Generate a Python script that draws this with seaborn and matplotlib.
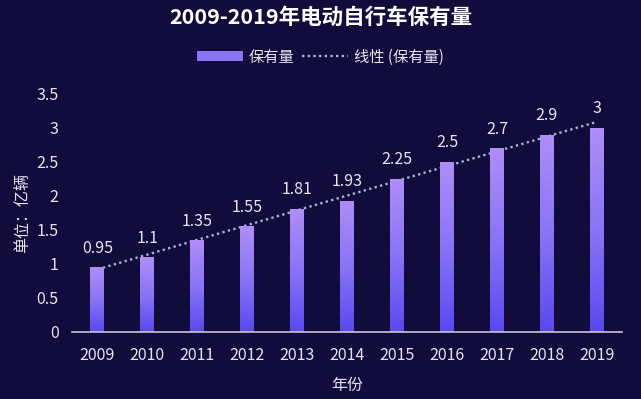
import numpy as np
import pandas as pd
import matplotlib
matplotlib.use("Agg")
import matplotlib.pyplot as plt
import seaborn as sns
from matplotlib.colors import LinearSegmentedColormap
from matplotlib.lines import Line2D
from matplotlib.patches import Patch

years = ['2009', '2010', '2011', '2012', '2013', '2014', '2015', '2016', '2017', '2018', '2019']
holdings = [0.95, 1.1, 1.35, 1.55, 1.81, 1.93, 2.25, 2.5, 2.7, 2.9, 3]
value_labels = ['0.95', '1.1', '1.35', '1.55', '1.81', '1.93', '2.25', '2.5', '2.7', '2.9', '3']

bg = '#110c3c'
txt = '#e6e4f2'

sns.set_theme(style='white')
plt.rcParams['font.family'] = ['Noto Sans CJK SC', 'DejaVu Sans']

df = pd.DataFrame({'year': years, 'value': holdings})

fig, ax = plt.subplots(figsize=(6.41, 3.99), dpi=100)
fig.patch.set_facecolor(bg)
ax.set_facecolor(bg)
fig.subplots_adjust(left=0.113, right=0.97, top=0.765, bottom=0.168)

sns.barplot(data=df, x='year', y='value', color='#8a70f5', width=0.28, ax=ax)

# gradient fill for the bars
cmap = LinearSegmentedColormap.from_list('bar', ['#5a48f0', '#8a74f6', '#ae8ef7'])
grad = np.linspace(0, 1, 256).reshape(-1, 1)
for p in ax.patches:
    x0, y0 = p.get_x(), p.get_y()
    w, h = p.get_width(), p.get_height()
    im = ax.imshow(grad, cmap=cmap, origin='lower', aspect='auto',
                   extent=[x0, x0 + w, y0, y0 + h], zorder=2)
    im.set_clip_path(p)
    p.set_facecolor('none')
    p.set_edgecolor('none')

# linear trend line (behind the bars)
xs = np.arange(len(years))
k, b = np.polyfit(xs, holdings, 1)
ax.plot(xs, k * xs + b, linestyle=(0, (1, 1.4)), color='#a3b3da', lw=1.7, zorder=1.5)

for i, v in enumerate(holdings):
    ax.text(i, v + 0.28, value_labels[i], ha='center', va='center', color=txt, fontsize=11.5)

ax.set_xlim(-0.5, len(years) - 0.5)
ax.set_ylim(0, 3.5)
ax.set_yticks(np.arange(0, 3.51, 0.5))
ax.set_yticklabels(['0', '0.5', '1', '1.5', '2', '2.5', '3', '3.5'])
ax.tick_params(axis='both', colors=txt, labelsize=11.5, length=0)
ax.tick_params(axis='y', pad=10)
ax.tick_params(axis='x', pad=11)
for s in ['top', 'right', 'left']:
    ax.spines[s].set_visible(False)
ax.spines['bottom'].set_color('#c9c6dc')
ax.spines['bottom'].set_linewidth(1.2)

ax.set_xlabel('年份', color=txt, fontsize=11.5, labelpad=9)
ax.set_ylabel('单位：亿辆', color=txt, fontsize=11.5)
ax.yaxis.set_label_coords(-0.076, 0.5)

fig.suptitle('2009-2019年电动自行车保有量', color='white', fontsize=15.5,
             fontweight='bold', y=0.982)

handles = [Patch(facecolor='#8a74f6', edgecolor='none'),
           Line2D([0], [0], linestyle=(0, (1, 1.4)), color='#a3b3da', lw=1.7)]
leg = fig.legend(handles, ['保有量', '线性 (保有量)'], loc='center', ncol=2,
                 bbox_to_anchor=(0.5, 0.857), frameon=False, fontsize=11,
                 handlelength=3.0, handleheight=0.6, columnspacing=0.5, handletextpad=0.4)
for t in leg.get_texts():
    t.set_color(txt)

fig.savefig('out.png', dpi=100, facecolor=bg)
